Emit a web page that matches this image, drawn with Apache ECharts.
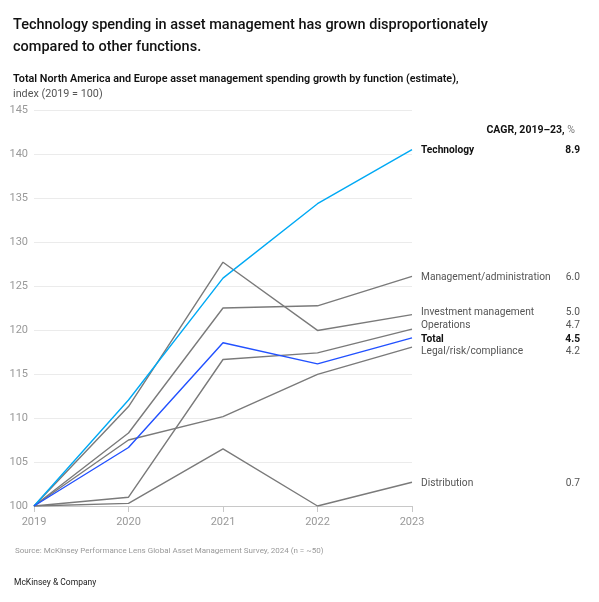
<!DOCTYPE html>
<html>
<head>
<meta charset="utf-8">
<script src="https://cdn.jsdelivr.net/npm/echarts@6/dist/echarts.min.js"></script>
<style>
  html, body { margin: 0; padding: 0; background: #fff; }
  #chart { width: 599px; height: 602px; }
</style>
</head>
<body>
<div id="chart"></div>
<script>
// data
var years = ['2019', '2020', '2021', '2022', '2023'];
var seriesNames = ['Technology', 'Management/administration', 'Investment management',
    'Operations', 'Total', 'Legal/risk/compliance', 'Distribution'];
var cagr = ['8.9', '6.0', '5.0', '4.7', '4.5', '4.2', '0.7'];
var technology = [100, 112.05, 125.9, 134.35, 140.5];
var managementAdmin = [100, 108.3, 122.5, 122.75, 126.1];
var investmentMgmt = [100, 111.3, 127.7, 119.95, 121.75];
var operations = [100, 101.0, 116.65, 117.4, 120.1];
var total = [100, 106.65, 118.55, 116.15, 119.1];
var legalRisk = [100, 107.5, 110.15, 114.95, 118.05];
var distribution = [100, 100.3, 106.5, 100.0, 102.7];
var yTicks = [100, 105, 110, 115, 120, 125, 130, 135, 140, 145];

var values = [technology, managementAdmin, investmentMgmt, operations, total, legalRisk, distribution];
var highlight = [true, false, false, false, true, false, false];
var colors = ['#00a9f4', '#7a7a7a', '#7a7a7a', '#7a7a7a', '#2251ff', '#7a7a7a', '#7a7a7a'];
// vertical nudge of the end labels so they don't collide
var labelNudge = [0.5, 1.5, -2.5, -3.5, 1.5, 4.5, 1.5];

var font = 'Roboto, "Liberation Sans", sans-serif';

var chart = echarts.init(document.getElementById('chart'), null, { renderer: 'canvas' });

var series = [];
for (var i = 0; i < values.length; i++) {
    var bold = highlight[i];
    series.push({
        name: seriesNames[i],
        type: 'line',
        data: values[i],
        symbol: 'none',
        silent: true,
        z: bold ? 5 : 2,
        lineStyle: { color: colors[i], width: 1.4 },
        endLabel: {
            show: true,
            distance: 9,
            offset: [0, labelNudge[i]],
            formatter: (function (idx) {
                return function () {
                    return '{n|' + seriesNames[idx] + '}{v|' + cagr[idx] + '}';
                };
            })(i),
            rich: {
                n: {
                    width: 134, fontFamily: font, fontSize: 10.2,
                    fontWeight: bold ? 'bold' : 'normal',
                    color: bold ? '#111' : '#555'
                },
                v: {
                    width: 25, align: 'right', fontFamily: font, fontSize: 10.2,
                    fontWeight: bold ? 'bold' : 'normal',
                    color: bold ? '#111' : '#555'
                }
            }
        }
    });
}

var option = {
    backgroundColor: '#fff',
    animation: false,
    title: [
        {
            text: 'Technology spending in asset management has grown disproportionately\ncompared to other functions.',
            left: 8, top: 9,
            textStyle: { fontFamily: font, fontSize: 14.5, fontWeight: 500, color: '#111', lineHeight: 22 }
        },
        {
            text: '{b|Total North America and Europe asset management spending growth by function (estimate),}\n{r|index (2019 = 100)}',
            left: 8, top: 67,
            textStyle: {
                rich: {
                    b: { fontFamily: font, fontSize: 10.8, fontWeight: 600, color: '#111', lineHeight: 15 },
                    r: { fontFamily: font, fontSize: 10.8, fontWeight: 'normal', color: '#555', lineHeight: 15 }
                }
            }
        },
        {
            text: '{b|CAGR, 2019\u201323,}{r| %}',
            right: 19, top: 120,
            textStyle: {
                rich: {
                    b: { fontFamily: font, fontSize: 10.5, fontWeight: 'bold', color: '#111' },
                    r: { fontFamily: font, fontSize: 10.5, fontWeight: 'normal', color: '#777' }
                }
            }
        },
        {
            text: 'Source: McKinsey Performance Lens Global Asset Management Survey, 2024 (n = ~50)',
            left: 10, top: 542,
            textStyle: { fontFamily: font, fontSize: 8, fontWeight: 'normal', color: '#999' }
        },
        {
            text: 'McKinsey & Company',
            left: 9, top: 573,
            textStyle: { fontFamily: font, fontSize: 8.5, fontWeight: 'normal', color: '#222' }
        }
    ],
    grid: { left: 34, right: 187, top: 110, bottom: 96 },
    xAxis: {
        type: 'category',
        data: years,
        boundaryGap: false,
        axisLine: { lineStyle: { color: '#c8c8c8', width: 1 } },
        axisTick: { show: true, length: 6, lineStyle: { color: '#c8c8c8' } },
        axisLabel: { color: '#999', fontFamily: font, fontSize: 11, margin: 11 },
        splitLine: { show: false }
    },
    yAxis: {
        type: 'value',
        min: yTicks[0],
        max: yTicks[yTicks.length - 1],
        interval: yTicks[1] - yTicks[0],
        axisLine: { show: false },
        axisTick: { show: false },
        axisLabel: { color: '#999', fontFamily: font, fontSize: 11, margin: 6 },
        splitLine: { lineStyle: { color: '#ebebeb', width: 1 } }
    },
    series: series
};

chart.setOption(option);
</script>
</body>
</html>
